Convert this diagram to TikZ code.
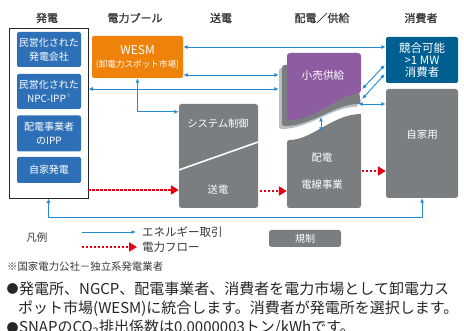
\documentclass[tikz,border=0pt]{standalone}
\usepackage{fontspec}
\setmainfont{Noto Sans CJK JP}
\newfontfamily\hfont{Noto Sans CJK JP}[FakeBold=1.2]
\usetikzlibrary{arrows.meta,calc}
\definecolor{bboxc}{RGB}{46,112,183}
\definecolor{orangec}{RGB}{238,130,10}
\definecolor{dbluec}{RGB}{0,95,145}
\definecolor{grayc}{RGB}{122,126,128}
\definecolor{lgrayc}{RGB}{185,190,195}
\definecolor{purplec}{RGB}{142,92,160}
\definecolor{arrc}{RGB}{35,140,210}
\definecolor{redc}{RGB}{230,0,18}
\definecolor{headc}{RGB}{55,55,55}
\begin{document}
\begin{tikzpicture}[x=1pt,y=-1pt,
  bluebox/.style={fill=bboxc, rounded corners=2pt, text=white, align=center, minimum width=64pt, inner sep=0pt, font=\fontsize{10}{14}\selectfont},
  graybox/.style={fill=grayc, rounded corners=2.5pt, inner sep=0pt},
  barr/.style={draw=arrc, line width=0.9pt, {Latex[length=4.5pt,width=4pt]}-{Latex[length=4.5pt,width=4pt]}},
  sarr/.style={draw=arrc, line width=0.9pt, -{Latex[length=4.5pt,width=4pt]}},
  rarr/.style={draw=redc, line width=2.2pt, dash pattern=on 2.2pt off 1.8pt, -{Triangle[length=8pt,width=9pt]}},
  head/.style={text=headc, font=\hfont\fontsize{11}{13}\selectfont},
  wtxt/.style={text=white, align=center, font=\fontsize{10.3}{12}\selectfont},
  btxt/.style={anchor=west, inner sep=0pt, text=black!85, font=\fontsize{15}{20}\selectfont}
]
\useasboundingbox (0,0) rectangle (464,331);
\clip (0,0) rectangle (464,331);

% headings
\node[head] (h1) at (47,18) {発電};
\node[head] (h2) at (135,18) {電力プール};
\node[head] (h3) at (221,18) {送電};
\node[head] (h4) at (322,18) {配電／供給};
\node[head] (h5) at (421,18) {消費者};

% generation column
\node[draw=black!85, line width=0.9pt, minimum width=79pt, minimum height=170pt, inner sep=0pt] (gen) at (48.5,113) {};
\node[bluebox, minimum height=35pt] (g1) at (49,49.5) {民営化された\\発電会社};
\node[bluebox, minimum height=35pt] (g2) at (49,91.5) {民営化された\\NPC-IPP\raisebox{0.9ex}{\color{white!70!bboxc}\fontsize{5}{5}\selectfont ※}};
\node[bluebox, minimum height=36pt] (g3) at (49,133.5) {配電事業者\\のIPP};
\node[bluebox, minimum height=26pt] (g4) at (49,170) {自家発電};

% WESM
\node[fill=orangec, rounded corners=2pt, minimum width=91pt, minimum height=42pt, inner sep=0pt, text=white, align=center, font=\fontsize{8.6}{13}\selectfont] (wesm) at (137.5,57) {{\fontsize{12}{13}\selectfont WESM}\\(卸電力スポット市場)};

% transmission
\node[graybox, minimum width=79pt, minimum height=104pt] (sys) at (218.5,156) {};
\draw[white, line width=1.6pt] ([yshift=-14pt]sys.west) -- ([yshift=14pt]sys.east);
\node[wtxt] (syst) at (218,124) {システム制御};
\node[wtxt] (txt) at (218,190) {送電};

% distribution box with wavy top
\fill[grayc] (287,140) .. controls (312,140) and (333,114) .. (361,114) [rounded corners=2.5pt] -- (361,208) -- (287,208) -- cycle;
\node[minimum width=74pt, minimum height=94pt, inner sep=0pt] (dist) at (324,161) {};
\node[wtxt] (dt1) at (322,158) {配電};
\node[wtxt] (dt2) at (322,185) {電線事業};

% retail (purple with page shadow)
\fill[lgrayc, rounded corners=2.5pt] (279,129) -- (279,68) -- (352,68) -- (358,107) .. controls (332,107) and (309,129) .. (279,129) -- cycle;
\fill[grayc, rounded corners=2.5pt] (282,126) -- (282,65) -- (355,65) -- (361,104) .. controls (335,104) and (312,126) .. (282,126) -- cycle;
\fill[purplec, rounded corners=3pt] (287,120) -- (287,53) -- (361,53) -- (361,93) .. controls (338,95) and (315,120) .. (287,120) -- cycle;
\node[minimum width=82pt, minimum height=75pt, inner sep=0pt] (retail) at (320,90.5) {};
\node[wtxt, font=\fontsize{10.7}{12}\selectfont] (rt) at (323,75) {小売供給};

% consumers
\node[fill=dbluec, rounded corners=2pt, minimum width=72pt, minimum height=46pt, inner sep=0pt, text=white, align=center, font=\fontsize{11.5}{11.8}\selectfont] (c1) at (422,60) {競合可能\\>1 MW\\消費者};
\node[graybox, minimum width=72pt, minimum height=109pt] (self) at (422,143.5) {};
\node[wtxt, font=\fontsize{10.5}{12}\selectfont] (selft) at (422,135) {自家用};

% energy trading arrows
\draw[barr] ([yshift=10pt]wesm.east) coordinate (a1) -- (a1 -| c1.west);
\draw[barr] ([yshift=-18pt]wesm.east) coordinate (a2) -- (a2 -| retail.west);
\draw[barr] ([yshift=24pt]gen.east) coordinate (a3) -- (a3 -| retail.west);
\draw[barr] (wesm.south) |- ([yshift=-8pt]sys.north west);
\draw[barr] (gen.south) -- ++(0,19) -| (self.south);
\draw[barr] ([yshift=1.5pt,xshift=1pt]retail.east) -- ([yshift=-5pt,xshift=-1pt]c1.west);
\draw[barr] ([yshift=-8.5pt,xshift=1pt]retail.east) -- ([yshift=-14pt,xshift=-1pt]c1.west);
\draw[barr] ([yshift=-13.5pt,xshift=-3pt]retail.east) coordinate (a7) -- (a7 -| self.west);
\coordinate (v1) at (321,117);
\coordinate (v2) at (321,132);
\draw[barr] (v1) -- (v2);

% power flow
\draw[rarr] ([yshift=-77pt]gen.east) coordinate (r1) -- (r1 -| sys.west);
\draw[rarr] ([yshift=-35pt,xshift=2pt]sys.east) coordinate (r2) -- (r2 -| dist.west);
\draw[rarr] ([yshift=-10pt,xshift=1pt]dist.east) coordinate (r3) -- (r3 -| self.west);

% legend
\node[text=headc, font=\fontsize{10.5}{12}\selectfont] (lg) at (37,238) {凡例};
\coordinate (l1a) at (82,232);
\coordinate (l1b) at (136,232);
\draw[sarr] (l1a) -- (l1b);
\node[anchor=west, inner sep=0pt, text=headc, font=\fontsize{11.5}{13}\selectfont] (l1t) at (142,232) {エネルギー取引};
\coordinate (l2a) at (82,247);
\coordinate (l2b) at (137,247);
\draw[rarr] (l2a) -- (l2b);
\node[anchor=west, inner sep=0pt, text=headc, font=\fontsize{11.5}{13}\selectfont] (l2t) at (142,247) {電力フロー};
\node[graybox, minimum width=72pt, minimum height=17pt, text=white, font=\fontsize{10}{12}\selectfont] (reg) at (305,238.5) {規制};

% notes
\node[anchor=west, inner sep=0pt, text=headc, font=\fontsize{10.4}{11}\selectfont] (fn) at (7,267) {※国家電力公社－独立系発電業者};
\node[inner sep=0pt, text=black!85, font=\fontsize{12}{12}\selectfont] (d1) at (12.5,288.5) {●};
\node[btxt] (b1) at (19,288.5) {発電所、NGCP、配電事業者、消費者を電力市場として卸電力ス};
\node[btxt] (b2) at (18,308.5) {ポット市場(WESM)に統合します。消費者が発電所を選択します。};
\node[inner sep=0pt, text=black!85, font=\fontsize{12}{12}\selectfont] (d3) at (12.5,328) {●};
\node[btxt] (b3) at (19,328) {SNAPのCO\textsubscript{2}排出係数は0.0000003トン/kWhです。};
\end{tikzpicture}
\end{document}
